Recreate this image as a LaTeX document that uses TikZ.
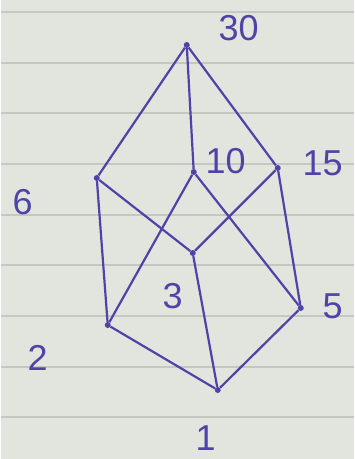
\documentclass[tikz,border=0pt]{standalone}
\usepackage{fontspec}
\setmainfont{Liberation Sans}
\usepackage{xcolor}
\usepackage{tikz}
\usetikzlibrary{positioning}

\definecolor{pen}{RGB}{78,68,168}
\definecolor{paper}{RGB}{226,228,222}
\definecolor{ruling}{RGB}{196,199,194}

\begin{document}
\begin{tikzpicture}[
    x=1pt, y=-1pt,
    dot/.style={circle, fill=pen, inner sep=0pt, minimum size=6pt},
    num/.style={text=pen, font=\fontsize{36}{38}\selectfont, inner sep=0pt},
    every edge/.style={draw=pen, line width=2.2pt}
]
% paper
\fill[paper] (0,0) rectangle (353,459);
\foreach \y in {12,63,113,164,215,265,316,367,417}
    \draw[ruling, line width=1.5pt] (0,\y) -- (353,\y);

% elements
\node[dot] (30) at (186,45) {};
\node[dot] (10) at (193,172) {};
\node[dot] (15) at (277,168) {};
\node[dot] (6) at (96,178) {};
\node[dot] (3) at (192,253) {};
\node[dot] (5) at (300,308) {};
\node[dot] (2) at (107,325) {};
\node[dot] (1) at (217,390) {};

% labels
\node[num] (l30) at (238,28) {30};
\node[num] (l10) at (225,161) {10};
\node[num] (l15) at (322,163) {15};
\node[num] (l6) at (22,202) {6};
\node[num] (l3) at (172,296) {3};
\node[num] (l5) at (332,306) {5};
\node[num] (l2) at (37,358) {2};
\node[num] (l1) at (205,438) {1};

\draw (30) edge (6) edge (10) edge (15);
\draw (6) edge (2) edge (3);
\draw (10) edge (2) edge (5);
\draw (15) edge (3) edge (5);
\draw (1) edge (2) edge (3) edge (5);
\end{tikzpicture}
\end{document}
